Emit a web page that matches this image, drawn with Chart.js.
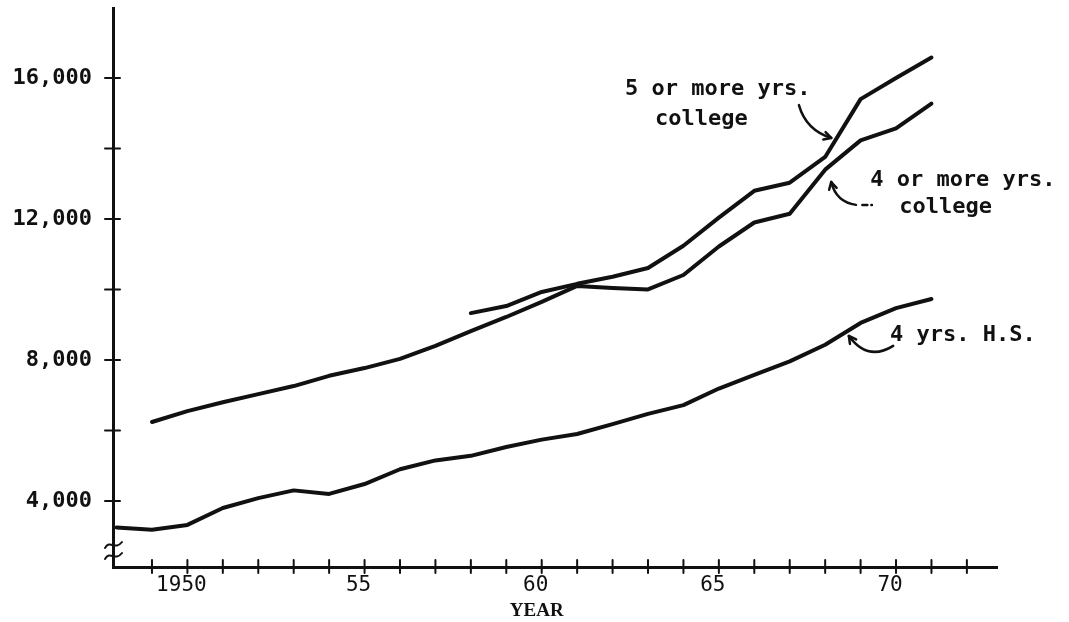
<!DOCTYPE html>
<html lang="en">
<head>
<meta charset="UTF-8" />
<title>Median income by years of school completed, 1948-1971</title>
<style>
  html, body {
    margin: 0;
    padding: 0;
    background: #fff;
  }
  #chart {
    display: block;
  }
</style>
</head>
<body>
<canvas id="chart" width="1069" height="622"></canvas>
<script src="https://cdn.jsdelivr.net/npm/chart.js@4.4.0/dist/chart.umd.min.js"></script>
<script>
  // Data (dollars per year)
  const years = [1948, 1949, 1950, 1951, 1952, 1953, 1954, 1955, 1956, 1957, 1958, 1959,
                 1960, 1961, 1962, 1963, 1964, 1965, 1966, 1967, 1968, 1969, 1970, 1971];
  const highSchool = [3250, 3180, 3320, 3800, 4080, 4300, 4200, 4480, 4900, 5150, 5280, 5530,
                      5740, 5900, 6180, 6470, 6720, 7190, 7580, 7960, 8430, 9050, 9470, 9730];
  const college4 = [null, 6240, 6550, 6800, 7030, 7260, 7550, 7770, 8030, 8400, 8820, 9220,
                    9650, 10100, 10040, 10000, 10410, 11220, 11900, 12150, 13400, 14230, 14570, 15270];
  const college5 = [null, null, null, null, null, null, null, null, null, null, 9330, 9530,
                    9930, 10160, 10360, 10610, 11240, 12040, 12800, 13030, 13760, 15400, 16000, 16580];

  // Axis ticks
  const xTickYears = [1949, 1950, 1951, 1952, 1953, 1954, 1955, 1956, 1957, 1958, 1959, 1960,
                      1961, 1962, 1963, 1964, 1965, 1966, 1967, 1968, 1969, 1970, 1971, 1972];
  const xLabelYears = [1950, 1955, 1960, 1965, 1970];
  const xLabelText = ['1950', '55', '60', '65', '70'];
  const yTickValues = [4000, 6000, 8000, 10000, 12000, 14000, 16000];
  const yLabelValues = [4000, 8000, 12000, 16000];

  const ink = '#111';
  const typewriter = "'DejaVu Sans Mono', 'Liberation Mono', monospace";

  // Hand-lettered callouts, placed in axis units
  const notes = [
    {
      lines: ['5 or more yrs.', 'college'],
      at: [[1962.35, 15690], [1963.2, 14840]],
      arrow: [[1967.26, 15230], [1967.46, 14520], [1968.17, 14300]]
    },
    {
      lines: ['4 or more yrs.', 'college'],
      at: [[1969.27, 13110], [1970.09, 12340]],
      arrow: [[1968.87, 12400], [1968.31, 12480], [1968.17, 13050]],
      dash: [[1969.05, 12400], [1969.32, 12400]]
    },
    {
      lines: ['4 yrs. H.S.'],
      at: [[1969.83, 8710]],
      arrow: [[1969.92, 8400], [1969.2, 7950], [1968.67, 8680]]
    }
  ];

  const toPoints = (vals) => years.map((yr, i) => ({ x: yr, y: vals[i] }));

  function seriesStyle(label, vals) {
    return {
      label: label,
      data: toPoints(vals),
      borderColor: ink,
      borderWidth: 4,
      pointRadius: 0,
      tension: 0,
      spanGaps: false,
      borderCapStyle: 'round',
      borderJoinStyle: 'round'
    };
  }

  // Tick crosses, axis break, axis title and callouts
  const decorations = {
    id: 'decorations',
    afterDraw(chart) {
      const { ctx, chartArea, scales: { x, y } } = chart;
      ctx.save();
      ctx.strokeStyle = ink;
      ctx.fillStyle = ink;
      ctx.lineCap = 'round';

      ctx.lineWidth = 2;
      const baseY = chartArea.bottom;
      x.ticks.forEach(t => {
        const px = x.getPixelForValue(t.value);
        ctx.beginPath();
        ctx.moveTo(px, baseY - 7);
        ctx.lineTo(px, baseY + 6);
        ctx.stroke();
      });
      const baseX = chartArea.left;
      y.ticks.forEach(t => {
        const py = y.getPixelForValue(t.value);
        ctx.beginPath();
        ctx.moveTo(baseX - 8, py);
        ctx.lineTo(baseX + 7, py);
        ctx.stroke();
      });

      // break in the value axis
      [baseY - 22, baseY - 11].forEach(yb => {
        ctx.beginPath();
        ctx.moveTo(baseX - 8, yb + 3);
        ctx.bezierCurveTo(baseX - 3, yb - 6, baseX + 2, yb + 6, baseX + 9, yb - 3);
        ctx.stroke();
      });

      // axis title under the 1960 label
      ctx.font = "bold 19px 'Liberation Serif', serif";
      ctx.textAlign = 'center';
      ctx.textBaseline = 'middle';
      ctx.fillText('YEAR', x.getPixelForValue(1960) - 5, baseY + 44);

      // callouts
      ctx.font = 'bold 22px ' + typewriter;
      ctx.textAlign = 'left';
      const px = (p) => [x.getPixelForValue(p[0]), y.getPixelForValue(p[1])];
      notes.forEach(n => {
        n.lines.forEach((txt, i) => {
          const [tx, ty] = px(n.at[i]);
          ctx.fillText(txt, tx, ty);
        });
        const [s, c, e] = n.arrow.map(px);
        ctx.lineWidth = 2.5;
        ctx.beginPath();
        ctx.moveTo(s[0], s[1]);
        ctx.quadraticCurveTo(c[0], c[1], e[0], e[1]);
        ctx.stroke();
        const ang = Math.atan2(e[1] - c[1], e[0] - c[0]);
        [0.5, -0.5].forEach(d => {
          ctx.beginPath();
          ctx.moveTo(e[0], e[1]);
          ctx.lineTo(e[0] - 8 * Math.cos(ang + d), e[1] - 8 * Math.sin(ang + d));
          ctx.stroke();
        });
        if (n.dash) {
          const [a, b] = n.dash.map(px);
          ctx.setLineDash([5, 4]);
          ctx.beginPath();
          ctx.moveTo(a[0], a[1]);
          ctx.lineTo(b[0], b[1]);
          ctx.stroke();
          ctx.setLineDash([]);
        }
      });
      ctx.restore();
    }
  };

  // keep the plot area edges fixed: no extra room for edge labels
  function noEdgePadding(scale) {
    scale.paddingTop = 0;
    scale.paddingBottom = 0;
    scale.paddingLeft = 0;
    scale.paddingRight = 0;
  }

  const ctx = document.getElementById('chart').getContext('2d');

  const chart = new Chart(ctx, {
    type: 'line',
    data: {
      datasets: [
        seriesStyle('4 yrs. H.S.', highSchool),
        seriesStyle('4 or more yrs. college', college4),
        seriesStyle('5 or more yrs. college', college5)
      ]
    },
    options: {
      responsive: false,
      animation: false,
      events: [],
      layout: {
        padding: { top: 8, right: 72, left: 0, bottom: 0 }
      },
      scales: {
        x: {
          type: 'linear',
          min: 1947.9,
          max: 1972.85,
          afterFit: (scale) => { scale.height = 55; noEdgePadding(scale); },
          afterBuildTicks: (scale) => {
            scale.ticks = xTickYears.map(v => ({ value: v }));
          },
          grid: { display: true, drawOnChartArea: false, drawTicks: false },
          border: { display: true, color: ink, width: 3 },
          ticks: {
            autoSkip: false,
            maxRotation: 0,
            padding: 6,
            labelOffset: -6,
            color: ink,
            font: { family: typewriter, size: 21 },
            callback: (v) => {
              const i = xLabelYears.indexOf(v);
              return i >= 0 ? xLabelText[i] : '';
            }
          }
        },
        y: {
          type: 'linear',
          min: 2126,
          max: 17986,
          afterFit: (scale) => { scale.width = 113; noEdgePadding(scale); },
          afterBuildTicks: (scale) => {
            scale.ticks = yTickValues.map(v => ({ value: v }));
          },
          grid: { display: true, drawOnChartArea: false, drawTicks: false },
          border: { display: true, color: ink, width: 3 },
          ticks: {
            padding: 21,
            color: ink,
            font: { family: typewriter, size: 22, weight: 'bold' },
            callback: (v) => yLabelValues.includes(v) ? v.toLocaleString('en-US') : ''
          }
        }
      },
      plugins: {
        legend: { display: false },
        tooltip: { enabled: false }
      }
    },
    plugins: [decorations]
  });
</script>
</body>
</html>
